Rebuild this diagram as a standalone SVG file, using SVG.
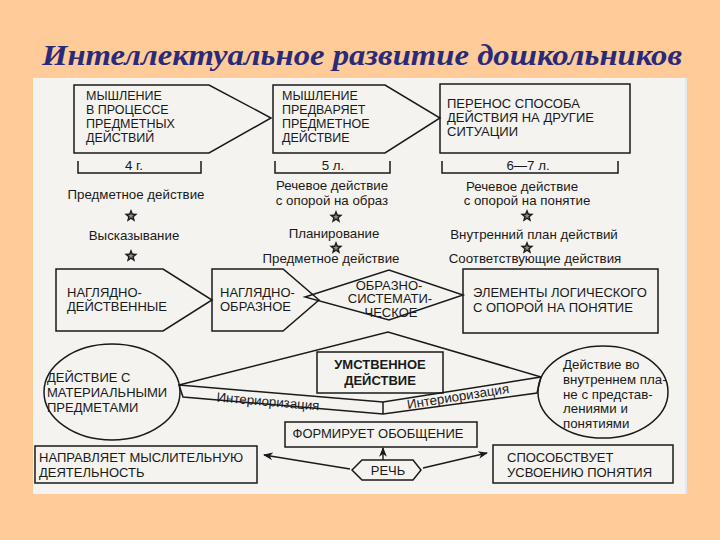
<svg xmlns="http://www.w3.org/2000/svg" width="720" height="540" viewBox="0 0 720 540">
<style>
.shape{fill:none;stroke:#1a1a1a;stroke-width:1.5;stroke-linejoin:miter}
.cap{font-family:"Liberation Sans","DejaVu Sans",sans-serif;font-size:13px;fill:#1a1a1a}
.box{font-size:12.5px}
.low{font-family:"Liberation Sans","DejaVu Sans",sans-serif;font-size:13.3px;fill:#1a1a1a}
.mid{text-anchor:middle}
.bold{font-weight:bold}
.conn{fill:none;stroke:#1a1a1a;stroke-width:1.4}
</style>
<defs>
<marker id="ah" viewBox="0 0 10 10" refX="9" refY="5" markerWidth="7" markerHeight="7" orient="auto">
<path d="M0,1 L10,5 L0,9 L3,5 Z" fill="#1a1a1a"/>
</marker>
<g id="star">
<polygon points="0,-7 1.8,-2.4 6.7,-2.2 2.9,0.9 4.1,5.7 0,3 -4.1,5.7 -2.9,0.9 -6.7,-2.2 -1.8,-2.4" fill="#1f1f1f"/>
<polygon points="0,-3 0.8,-1 2.9,-0.9 1.2,0.4 1.8,2.4 0,1.3 -1.8,2.4 -1.2,0.4 -2.9,-0.9 -0.8,-1" fill="#8a8a8a"/>
</g>
</defs>

<rect x="0" y="0" width="720" height="540" fill="#fecb99"/>
<text x="362" y="65" text-anchor="middle" font-family="Liberation Serif,'DejaVu Serif',serif" font-size="30" font-weight="bold" font-style="italic" fill="#2a2a7a" textLength="640" lengthAdjust="spacingAndGlyphs">Интеллектуальное развитие дошкольников</text>

<rect x="33" y="78" width="654" height="416" fill="#f4f3ef"/>
<line x1="686" y1="78" x2="686" y2="494" stroke="#e2e8ee" stroke-width="2"/>

<!-- top row -->
<g id="node-think-objects">
<polygon class="shape" points="74,85 209,85 271,118 209,153 74,153"/>
<text class="cap box" x="86" y="99.5">МЫШЛЕНИЕ</text>
<text class="cap box" x="86" y="113.5">В ПРОЦЕССЕ</text>
<text class="cap box" x="86" y="127.5">ПРЕДМЕТНЫХ</text>
<text class="cap box" x="86" y="141.5">ДЕЙСТВИЙ</text>
</g>
<g id="node-think-precedes">
<polygon class="shape" points="273,85 385,85 440,118 385,153 273,153"/>
<text class="cap box" x="282" y="99.5">МЫШЛЕНИЕ</text>
<text class="cap box" x="282" y="113.5">ПРЕДВАРЯЕТ</text>
<text class="cap box" x="282" y="127.5">ПРЕДМЕТНОЕ</text>
<text class="cap box" x="282" y="141.5">ДЕЙСТВИЕ</text>
</g>
<g id="node-transfer">
<rect class="shape" x="440" y="84" width="190" height="69"/>
<text class="cap" x="447" y="108">ПЕРЕНОС СПОСОБА</text>
<text class="cap" x="447" y="122">ДЕЙСТВИЯ НА ДРУГИЕ</text>
<text class="cap" x="447" y="136">СИТУАЦИИ</text>
</g>

<!-- age brackets -->
<g id="ages">
<path class="shape" d="M78,161 V173 H201 V161"/>
<text class="low mid" x="134" y="170" font-size="11.5">4 г.</text>
<path class="shape" d="M275,161 V173 H390 V161"/>
<text class="low mid" x="333" y="170" font-size="11.5">5 л.</text>
<path class="shape" d="M442,161 V173 H618 V161"/>
<text class="low mid" x="528" y="170" font-size="11.5">6—7 л.</text>
</g>

<!-- column labels -->
<g id="labels-4">
<text class="low mid" x="136" y="199">Предметное действие</text>
<use href="#star" x="131" y="216"/>
<text class="low mid" x="134" y="240">Высказывание</text>
<use href="#star" x="131" y="256"/>
</g>
<g id="labels-5">
<text class="low mid" x="332" y="190">Речевое действие</text>
<text class="low mid" x="332" y="204.5">с опорой на образ</text>
<use href="#star" x="336" y="217"/>
<text class="low mid" x="334" y="238">Планирование</text>
<use href="#star" x="336" y="248"/>
<text class="low mid" x="331" y="263">Предметное действие</text>
</g>
<g id="labels-67">
<text class="low mid" x="522" y="191">Речевое действие</text>
<text class="low mid" x="527" y="205">с опорой на понятие</text>
<use href="#star" x="527" y="216"/>
<text class="low mid" x="534" y="239">Внутренний план действий</text>
<use href="#star" x="527" y="248"/>
<text class="low mid" x="535" y="263">Соответствующие действия</text>
</g>

<!-- middle row -->
<g id="node-visual-active">
<polygon class="shape" points="56,269 163,269 212,300 163,331 56,331"/>
<text class="cap" x="67" y="297">НАГЛЯДНО-</text>
<text class="cap" x="67" y="311">ДЕЙСТВЕННЫЕ</text>
</g>
<g id="node-visual-figurative">
<polygon class="shape" points="212,269 283,269 319,300 283,331 212,331"/>
<text class="cap" x="220" y="297">НАГЛЯДНО-</text>
<text class="cap" x="220" y="311">ОБРАЗНОЕ</text>
</g>
<g id="node-figurative-systematic">
<polygon class="shape" points="305,297 389,270 463,295 389,320"/>
<text class="cap mid" x="389" y="289.5" font-size="11">ОБРАЗНО-</text>
<text class="cap mid" x="390" y="303" font-size="11">СИСТЕМАТИ-</text>
<text class="cap mid" x="391" y="316.5" font-size="11">ЧЕСКОЕ</text>
</g>
<g id="node-logical">
<rect class="shape" x="463" y="269" width="195" height="64"/>
<text class="cap" x="473" y="297">ЭЛЕМЕНТЫ ЛОГИЧЕСКОГО</text>
<text class="cap" x="473" y="312">С ОПОРОЙ НА ПОНЯТИЕ</text>
</g>

<!-- mental action -->
<g id="node-mental-action">
<polyline class="shape" points="179,385 388,332 541,377"/>
<polygon class="shape" points="179,385 383,402 541,377 537,393 383,414 183,397"/>
<line class="shape" x1="383" y1="402" x2="383" y2="414"/>
<rect class="shape" x="317" y="352" width="126" height="41"/>
<text class="cap mid bold" x="380" y="369" font-size="14">УМСТВЕННОЕ</text>
<text class="cap mid bold" x="380" y="385" font-size="14">ДЕЙСТВИЕ</text>
<text class="low mid" x="268" y="406" font-size="12.5" transform="rotate(5 268 402)">Интериоризация</text>
<text class="low mid" x="458" y="401" font-size="12.5" transform="rotate(-9 458 397)">Интериоризация</text>
</g>

<g id="node-material">
<ellipse class="shape" cx="112" cy="392" rx="68" ry="48"/>
<text class="cap" x="47" y="382" font-size="13.5">ДЕЙСТВИЕ С</text>
<text class="cap" x="47" y="397" font-size="13.5">МАТЕРИАЛЬНЫМИ</text>
<text class="cap" x="47" y="412" font-size="13.5">ПРЕДМЕТАМИ</text>
</g>
<g id="node-inner">
<ellipse class="shape" cx="603" cy="392" rx="65" ry="46"/>
<text class="low" x="563" y="369" font-size="12.5">Действие во</text>
<text class="low" x="563" y="384" font-size="12.5">внутреннем пла-</text>
<text class="low" x="563" y="399" font-size="12.5">не с представ-</text>
<text class="low" x="563" y="413" font-size="12.5">лениями и</text>
<text class="low" x="563" y="428" font-size="12.5">понятиями</text>
</g>

<!-- bottom -->
<g id="node-generalize">
<rect class="shape" x="285" y="422" width="192" height="25"/>
<text class="cap mid" x="378" y="438" font-size="13.5">ФОРМИРУЕТ ОБОБЩЕНИЕ</text>
</g>
<g id="node-speech">
<polygon class="shape" points="352,470 362,460 413,460 421,470 413,480 362,480"/>
<text class="cap mid" x="388" y="475" font-size="12.5">РЕЧЬ</text>
</g>
<g id="node-directs">
<rect class="shape" x="35" y="446" width="222" height="37"/>
<text class="cap" x="39" y="462" font-size="13.5">НАПРАВЛЯЕТ МЫСЛИТЕЛЬНУЮ</text>
<text class="cap" x="39" y="477" font-size="13.5">ДЕЯТЕЛЬНОСТЬ</text>
</g>
<g id="node-promotes">
<rect class="shape" x="493" y="445" width="180" height="38"/>
<text class="cap" x="507" y="462" font-size="13.5">СПОСОБСТВУЕТ</text>
<text class="cap" x="507" y="477" font-size="13.5">УСВОЕНИЮ ПОНЯТИЯ</text>
</g>

<g id="connectors">
<line class="conn" x1="383" y1="460" x2="383" y2="448" marker-end="url(#ah)"/>
<line class="conn" x1="350" y1="469" x2="264" y2="455" marker-end="url(#ah)"/>
<line class="conn" x1="423" y1="468" x2="487" y2="453" marker-end="url(#ah)"/>
</g>
</svg>
